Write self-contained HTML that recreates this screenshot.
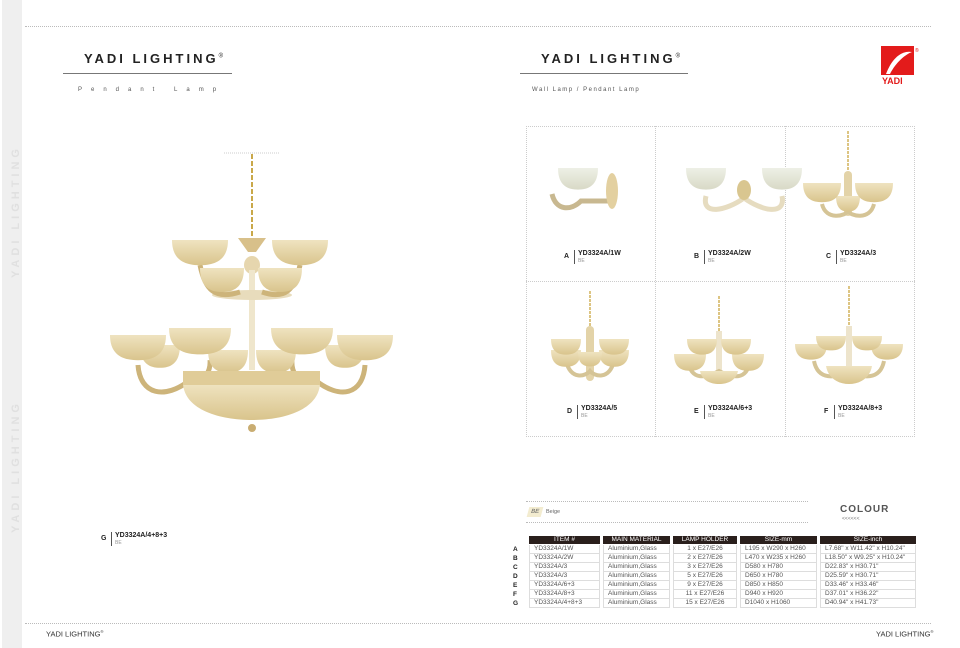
<!DOCTYPE html>
<html><head><meta charset="utf-8">
<style>
*{margin:0;padding:0;box-sizing:border-box}
body{width:960px;height:648px;background:#fff;position:relative;overflow:hidden;font-family:"Liberation Sans",sans-serif;color:#222}
.a{position:absolute}
.dot{position:absolute;border-top:1px dotted #bbb;height:0}
.title{font-weight:bold;font-size:13px;letter-spacing:3px;color:#222}
.sub{font-size:6px;color:#555}
.lbl{position:absolute;font-size:7px}
.lbl b{position:absolute;left:0;top:3px;font-size:7px}
.lbl .bar{position:absolute;left:10px;top:0;width:1px;height:14px;background:#555}
.lbl .n{position:absolute;left:14px;top:0;font-weight:bold;font-size:7px;white-space:nowrap}
.lbl .c{position:absolute;left:14px;top:8px;font-size:5px;color:#999}
table{position:absolute;left:526px;top:536px;border-collapse:separate;border-spacing:3px 0;font-size:6.5px;color:#555}
th{background:#2a1f1c;color:#fff;font-weight:normal;height:9px;line-height:8px;font-size:6.5px;border-bottom:1px solid #fff}
td{border:1px solid #ddd;border-top:0;height:9px;line-height:8px;padding:0 4px}
.rl{position:absolute;left:513px;font-size:6.5px;font-weight:bold;color:#222}
</style></head><body>
<svg width="0" height="0" style="position:absolute">
<defs>
<linearGradient id="g" x1="0" y1="0" x2="0" y2="1"><stop offset="0" stop-color="#efe3c0"/><stop offset="1" stop-color="#d9c48c"/></linearGradient>
<linearGradient id="gw" x1="0" y1="0" x2="0" y2="1"><stop offset="0" stop-color="#eef0e6"/><stop offset="1" stop-color="#d8d9c6"/></linearGradient>
<path id="sh" d="M-1,0 C-1,0.5 -0.5,0.6 0,0.6 C0.5,0.6 1,0.5 1,0 Z" fill="url(#g)"/>
<path id="shw" d="M-1,0 C-1,0.5 -0.5,0.6 0,0.6 C0.5,0.6 1,0.5 1,0 Z" fill="url(#gw)"/>
</defs></svg>

<div class="a" style="left:2px;top:0;width:20px;height:648px;background:#efefef"></div>
<div class="a" style="left:10px;top:145px;width:14px;font-size:11px;color:#e0e0e0;letter-spacing:4px;writing-mode:vertical-rl;transform:rotate(180deg);font-weight:bold">YADI LIGHTING</div>
<div class="a" style="left:10px;top:400px;width:14px;font-size:11px;color:#e0e0e0;letter-spacing:4px;writing-mode:vertical-rl;transform:rotate(180deg);font-weight:bold">YADI LIGHTING</div>

<div class="dot" style="left:25px;top:26px;width:906px"></div>
<div class="dot" style="left:25px;top:623px;width:906px"></div>

<div class="a title" style="left:84px;top:51px">YADI LIGHTING<sup style="font-size:6px;font-weight:normal">®</sup></div>
<div class="a" style="left:63px;top:73px;width:169px;height:1px;background:#777"></div>
<div class="a sub" style="left:78px;top:87px;letter-spacing:9px">Pendant  Lamp</div>

<div class="a title" style="left:541px;top:51px">YADI LIGHTING<sup style="font-size:6px;font-weight:normal">®</sup></div>
<div class="a" style="left:520px;top:73px;width:168px;height:1px;background:#777"></div>
<div class="a sub" style="left:532px;top:87px;letter-spacing:1.5px">Wall Lamp / Pendant Lamp</div>

<svg class="a" style="left:878px;top:44px" width="50" height="44">
<rect x="3" y="2" width="33" height="29" fill="#e31b1b"/>
<path d="M8,30 C14,14 24,6 34,8 C28,10 18,18 12,30Z" fill="#fff"/>
<text x="37" y="8" font-size="5" fill="#e31b1b" font-family="Liberation Sans">®</text>
<text x="4" y="40" font-size="9" font-weight="bold" fill="#e31b1b" font-family="Liberation Sans">YADI</text>
</svg>

<!-- big chandelier -->
<svg class="a" style="left:0;top:0" width="500" height="440">
<line x1="224" y1="153" x2="280" y2="153" stroke="#ccc" stroke-dasharray="1,1"/>
<line x1="252" y1="154" x2="252" y2="236" stroke="#c9a84a" stroke-width="2" stroke-dasharray="5,2"/>
<path d="M238,238 L266,238 L256,252 L248,252Z" fill="#d8c08a"/>
<ellipse cx="252" cy="265" rx="8" ry="9" fill="#e6d6ae"/>
<rect x="249" y="270" width="6" height="100" fill="#efe6cc"/>
<ellipse cx="252" cy="295" rx="40" ry="5" fill="#e8dcbc"/>
<g fill="none" stroke="#cdb47a" stroke-width="5">
<path d="M200,265 C205,290 215,300 240,292"/><path d="M300,265 C295,290 285,300 262,292"/>
<path d="M138,365 C140,395 165,400 190,380"/><path d="M365,365 C363,395 340,400 315,380"/>
<path d="M210,360 C212,385 180,390 190,380"/><path d="M292,360 C290,385 320,390 312,380"/>
</g>
<use href="#sh" transform="translate(222,268) scale(22,40)"/>
<use href="#sh" transform="translate(280,268) scale(22,40)"/>
<use href="#sh" transform="translate(200,240) scale(28,42)"/>
<use href="#sh" transform="translate(300,240) scale(28,42)"/>
<use href="#sh" transform="translate(160,345) scale(20,38)"/>
<use href="#sh" transform="translate(345,345) scale(20,38)"/>
<use href="#sh" transform="translate(228,350) scale(20,38)"/>
<use href="#sh" transform="translate(276,350) scale(20,38)"/>
<use href="#sh" transform="translate(138,335) scale(28,42)"/>
<use href="#sh" transform="translate(365,335) scale(28,42)"/>
<use href="#sh" transform="translate(200,328) scale(31,44)"/>
<use href="#sh" transform="translate(302,328) scale(31,44)"/>
<path d="M183,384 C185,410 220,420 252,420 C284,420 318,410 320,384Z" fill="url(#g)"/>
<rect x="183" y="371" width="137" height="14" fill="#e0cc98"/>
<circle cx="252" cy="428" r="4" fill="#c9ad72"/>
</svg>
<div class="lbl" style="left:101px;top:532px"><b>G</b><span class="bar"></span><span class="n">YD3324A/4+8+3</span><span class="c">BE</span></div>

<!-- grid -->
<div class="a" style="left:526px;top:126px;width:389px;height:311px;border:1px dotted #ccc"></div>
<div class="a" style="left:655px;top:126px;height:311px;border-left:1px dotted #ccc"></div>
<div class="a" style="left:785px;top:126px;height:311px;border-left:1px dotted #ccc"></div>
<div class="a" style="left:526px;top:281px;width:389px;border-top:1px dotted #ccc"></div>

<svg class="a" style="left:526px;top:126px" width="390" height="310">
<!-- A -->
<path d="M26,68 C30,85 45,85 55,75 L84,75" fill="none" stroke="#c8b890" stroke-width="5"/>
<ellipse cx="86" cy="65" rx="6" ry="18" fill="#e3d0a0"/>
<use href="#shw" transform="translate(52,42) scale(20,36)"/>
<!-- B -->
<path d="M180,70 C175,90 200,85 218,72 C236,85 260,90 256,70" fill="none" stroke="#e6dcc0" stroke-width="5"/>
<ellipse cx="218" cy="64" rx="7" ry="10" fill="#d9c690"/>
<use href="#shw" transform="translate(180,42) scale(20,36)"/>
<use href="#shw" transform="translate(256,42) scale(20,36)"/>
<!-- C -->
<line x1="322" y1="5" x2="322" y2="45" stroke="#d2b25a" stroke-width="1.5" stroke-dasharray="3,1"/>
<rect x="318" y="45" width="8" height="45" rx="4" fill="#e3d3a8"/>
<path d="M296,78 C300,95 320,90 322,85 C324,90 344,95 348,78" fill="none" stroke="#d5c496" stroke-width="4"/>
<use href="#sh" transform="translate(322,70) scale(12,26)"/>
<use href="#sh" transform="translate(296,57) scale(19,32)"/>
<use href="#sh" transform="translate(348,57) scale(19,32)"/>
<!-- D -->
<line x1="64" y1="165" x2="64" y2="200" stroke="#d2b25a" stroke-width="1.5" stroke-dasharray="3,1"/>
<rect x="60" y="200" width="8" height="55" rx="4" fill="#e3d3a8"/>
<path d="M40,235 C45,255 60,250 64,245 C68,250 83,255 88,235" fill="none" stroke="#d5c496" stroke-width="4"/>
<use href="#sh" transform="translate(40,224) scale(15,28)"/>
<use href="#sh" transform="translate(88,224) scale(15,28)"/>
<use href="#sh" transform="translate(64,226) scale(12,24)"/>
<use href="#sh" transform="translate(40,213) scale(15,26)"/>
<use href="#sh" transform="translate(88,213) scale(15,26)"/>
<!-- E -->
<line x1="193" y1="170" x2="193" y2="205" stroke="#d2b25a" stroke-width="1.5" stroke-dasharray="3,1"/>
<rect x="190" y="205" width="6" height="40" fill="#ede4cc"/>
<path d="M162,235 C165,255 180,252 193,245 C206,252 221,255 224,235" fill="none" stroke="#d5c496" stroke-width="4"/>
<use href="#sh" transform="translate(164,228) scale(16,28)"/>
<use href="#sh" transform="translate(222,228) scale(16,28)"/>
<use href="#sh" transform="translate(176,213) scale(15,26)"/>
<use href="#sh" transform="translate(210,213) scale(15,26)"/>
<path d="M174,245 C176,255 185,258 193,258 C201,258 210,255 212,245Z" fill="url(#g)"/>
<!-- F -->
<line x1="323" y1="160" x2="323" y2="200" stroke="#d2b25a" stroke-width="1.5" stroke-dasharray="3,1"/>
<rect x="320" y="200" width="6" height="45" fill="#ede4cc"/>
<path d="M288,235 C292,255 310,252 323,245 C336,252 354,255 358,235" fill="none" stroke="#d5c496" stroke-width="4"/>
<use href="#sh" transform="translate(285,218) scale(16,26)"/>
<use href="#sh" transform="translate(361,218) scale(16,26)"/>
<use href="#sh" transform="translate(305,210) scale(15,24)"/>
<use href="#sh" transform="translate(341,210) scale(15,24)"/>
<path d="M300,240 C302,252 312,258 323,258 C334,258 344,252 346,240Z" fill="url(#g)"/>
</svg>

<div class="lbl" style="left:564px;top:250px"><b>A</b><span class="bar"></span><span class="n">YD3324A/1W</span><span class="c">BE</span></div>
<div class="lbl" style="left:694px;top:250px"><b>B</b><span class="bar"></span><span class="n">YD3324A/2W</span><span class="c">BE</span></div>
<div class="lbl" style="left:826px;top:250px"><b>C</b><span class="bar"></span><span class="n">YD3324A/3</span><span class="c">BE</span></div>
<div class="lbl" style="left:567px;top:405px"><b>D</b><span class="bar"></span><span class="n">YD3324A/5</span><span class="c">BE</span></div>
<div class="lbl" style="left:694px;top:405px"><b>E</b><span class="bar"></span><span class="n">YD3324A/6+3</span><span class="c">BE</span></div>
<div class="lbl" style="left:824px;top:405px"><b>F</b><span class="bar"></span><span class="n">YD3324A/8+3</span><span class="c">BE</span></div>

<!-- colour -->
<div class="dot" style="left:526px;top:501px;width:282px"></div>
<div class="dot" style="left:526px;top:522px;width:282px"></div>
<div class="a" style="left:528px;top:507px;width:14px;height:10px;background:#f3ecd0;transform:skewX(-15deg);font-size:6px;color:#666;text-align:center;line-height:10px">BE</div>
<div class="a" style="left:546px;top:509px;font-size:5.5px;color:#666">Beige</div>
<div class="a" style="left:840px;top:504px;font-size:10px;font-weight:bold;color:#555;letter-spacing:1px">COLOUR</div>
<div class="a" style="left:842px;top:516px;font-size:5px;color:#777">&lt;&lt;&lt;&lt;&lt;&lt;</div>

<table>
<tr><th style="width:71px">ITEM #</th><th style="width:67px">MAIN MATERIAL</th><th style="width:64px">LAMP HOLDER</th><th style="width:77px">SIZE-mm</th><th style="width:96px">SIZE-inch</th></tr>
<tr><td>YD3324A/1W</td><td>Aluminium,Glass</td><td style="text-align:center">1 x E27/E26</td><td>L195 x W290 x H260</td><td>L7.68" x W11.42" x H10.24"</td></tr>
<tr><td>YD3324A/2W</td><td>Aluminium,Glass</td><td style="text-align:center">2 x E27/E26</td><td>L470 x W235 x H260</td><td>L18.50" x W9.25" x H10.24"</td></tr>
<tr><td>YD3324A/3</td><td>Aluminium,Glass</td><td style="text-align:center">3 x E27/E26</td><td>D580 x H780</td><td>D22.83" x H30.71"</td></tr>
<tr><td>YD3324A/3</td><td>Aluminium,Glass</td><td style="text-align:center">5 x E27/E26</td><td>D650 x H780</td><td>D25.59" x H30.71"</td></tr>
<tr><td>YD3324A/6+3</td><td>Aluminium,Glass</td><td style="text-align:center">9 x E27/E26</td><td>D850 x H850</td><td>D33.46" x H33.46"</td></tr>
<tr><td>YD3324A/8+3</td><td>Aluminium,Glass</td><td style="text-align:center">11 x E27/E26</td><td>D940 x H920</td><td>D37.01" x H36.22"</td></tr>
<tr><td>YD3324A/4+8+3</td><td>Aluminium,Glass</td><td style="text-align:center">15 x E27/E26</td><td>D1040 x H1060</td><td>D40.94" x H41.73"</td></tr>
</table>
<div class="rl" style="top:546px">A</div>
<div class="rl" style="top:555px">B</div>
<div class="rl" style="top:564px">C</div>
<div class="rl" style="top:573px">D</div>
<div class="rl" style="top:582px">E</div>
<div class="rl" style="top:591px">F</div>
<div class="rl" style="top:600px">G</div>

<div class="a" style="left:46px;top:629px;font-size:7.5px;color:#333">YADI LIGHTING<sup style="font-size:4px">®</sup></div>
<div class="a" style="left:876px;top:629px;font-size:7.5px;color:#333">YADI LIGHTING<sup style="font-size:4px">®</sup></div>
</body></html>
